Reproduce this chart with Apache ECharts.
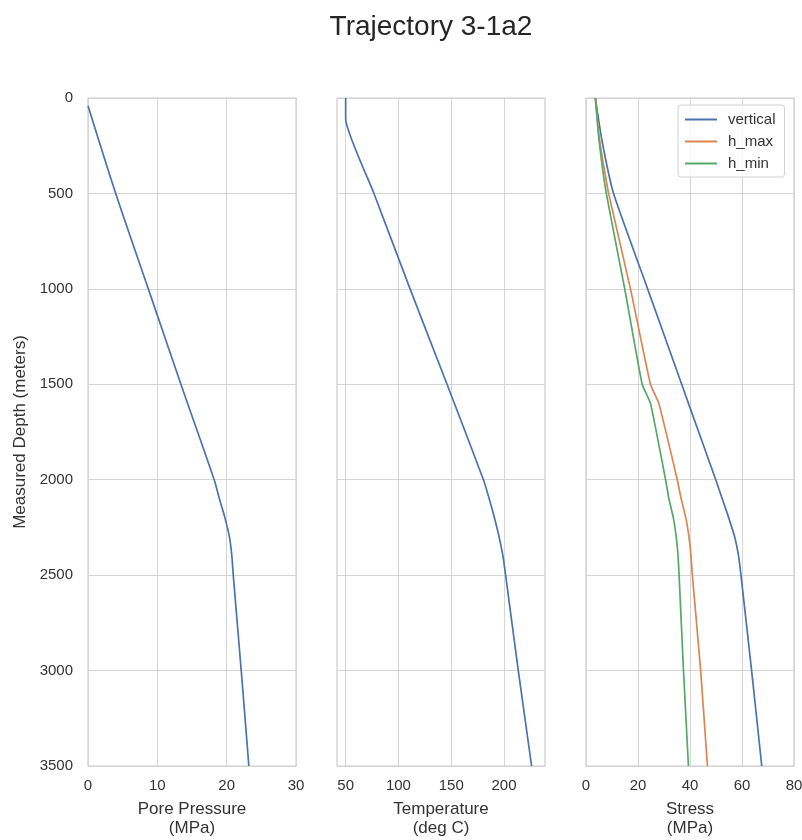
<!DOCTYPE html>
<html>
<head>
<meta charset="utf-8">
<script src="https://cdn.jsdelivr.net/npm/echarts@6/dist/echarts.min.js"></script>
<style>
  html, body { margin: 0; padding: 0; background: #fff; }
  #chart { width: 802px; height: 840px; }
</style>
</head>
<body>
<div id="chart"></div>
<script>
// depth (m) / value pairs
var poreDepth = [40, 500, 1000, 1500, 2000, 2100, 2200, 2300, 2400, 2500, 3000, 3500];
var porePressure = [0, 4.0, 8.7, 13.4, 18.2, 18.95, 19.75, 20.4, 20.75, 20.95, 22.1, 23.2];

var tempDepth = [0, 110, 500, 1000, 1500, 2000, 2150, 2280, 2400, 2500, 3000, 3500];
var temperature = [50, 50, 76.8, 111, 146, 180.5, 188.5, 194.5, 199.0, 201.5, 213.5, 226.1];

var stressDepth = [0, 220, 500, 1000, 1500, 1600, 2000, 2100, 2200, 2300, 2400, 2500, 3000, 3500];
var vertical = [3.6, 6.1, 10.6, 23.7, 36.8, 39.4, 49.9, 52.4, 54.9, 57.2, 58.7, 59.6, 63.7, 67.6];
var hMax = [3.6, 5.2, 8.7, 17.1, 24.8, 28.0, 35.1, 36.6, 38.4, 39.6, 40.4, 40.9, 44.1, 46.7];
var hMin = [3.6, 5.0, 7.8, 14.9, 21.6, 24.8, 30.6, 31.9, 33.6, 34.7, 35.4, 35.8, 37.5, 39.4];

var tempTicks = [50, 100, 150, 200];

(function() {
    var font = 'Liberation Sans, Arial, sans-serif';
    var gridColor = '#d5d5d5';
    var textColor = '#333';
    var blue = '#4c72b0', orange = '#dd8452', green = '#55a868';

    function pairs(xs, ys) {
        return ys.map(function(d, i) { return [xs[i], d]; });
    }

    function grid(left) {
        return {
            left: left, top: 98, width: 208, height: 668,
            outerBoundsMode: 'none', containLabel: false,
            show: true, borderColor: '#cccccc', borderWidth: 1.2
        };
    }

    function xAxis(idx, name, min, max, interval, custom) {
        var ax = {
            type: 'value', gridIndex: idx, min: min, max: max,
            name: name, nameLocation: 'middle', nameGap: 34,
            nameTextStyle: { fontFamily: font, fontSize: 17, color: textColor, lineHeight: 19, verticalAlign: 'top' },
            axisLine: { show: false },
            axisTick: { show: false },
            axisLabel: { fontFamily: font, fontSize: 15, color: textColor, margin: 12 },
            splitLine: { lineStyle: { color: gridColor, width: 1 } }
        };
        if (custom) {
            ax.axisTick.customValues = custom;
            ax.axisLabel.customValues = custom;
        } else {
            ax.interval = interval;
        }
        return ax;
    }

    function yAxis(idx, showName) {
        return {
            type: 'value', gridIndex: idx, inverse: true, min: 0, max: 3500, interval: 500,
            name: showName ? 'Measured Depth (meters)' : '',
            nameLocation: 'middle', nameGap: 59,
            nameTextStyle: { fontFamily: font, fontSize: 17, color: textColor },
            axisLine: { show: false },
            axisTick: { show: false },
            axisLabel: {
                show: showName, fontFamily: font, fontSize: 15, color: textColor, margin: 15,
                formatter: function(v) { return String(v); }
            },
            splitLine: { lineStyle: { color: gridColor, width: 1 } }
        };
    }

    function line(name, idx, color, xs, ys, smooth) {
        return {
            name: name, type: 'line', xAxisIndex: idx, yAxisIndex: idx,
            data: pairs(xs, ys), showSymbol: false, smooth: smooth,
            lineStyle: { color: color, width: 1.7 }, itemStyle: { color: color },
            animation: false
        };
    }

    var option = {
        backgroundColor: '#fff',
        title: {
            text: 'Trajectory 3-1a2', left: 426, top: 8, textAlign: 'center',
            textStyle: { fontFamily: font, fontSize: 28, fontWeight: 'normal', color: '#262626' }
        },
        legend: {
            data: ['vertical', 'h_max', 'h_min'],
            orient: 'vertical', left: 678, top: 105,
            icon: 'rect', itemWidth: 32, itemHeight: 2, itemGap: 7,
            padding: [7, 9, 6, 7],
            borderColor: '#d0d0d0', borderWidth: 1, borderRadius: 3,
            backgroundColor: 'rgba(255,255,255,0.8)',
            textStyle: { fontFamily: font, fontSize: 15, color: textColor, padding: [0, 0, 0, 6] }
        },
        grid: [grid(88), grid(337), grid(586)],
        xAxis: [
            xAxis(0, 'Pore Pressure\n(MPa)', 0, 30, 10),
            xAxis(1, 'Temperature\n(deg C)', 41.8, 238.8, null, tempTicks),
            xAxis(2, 'Stress\n(MPa)', 0, 80, 20)
        ],
        yAxis: [yAxis(0, true), yAxis(1, false), yAxis(2, false)],
        series: [
            line('pore', 0, blue, porePressure, poreDepth, 0.3),
            line('temp', 1, blue, temperature, tempDepth, 0.15),
            line('vertical', 2, blue, vertical, stressDepth, 0.15),
            line('h_max', 2, orange, hMax, stressDepth, 0.15),
            line('h_min', 2, green, hMin, stressDepth, 0.15)
        ]
    };
    var myChart = echarts.init(document.getElementById('chart'));
    myChart.setOption(option);
})();
</script>
</body>
</html>
